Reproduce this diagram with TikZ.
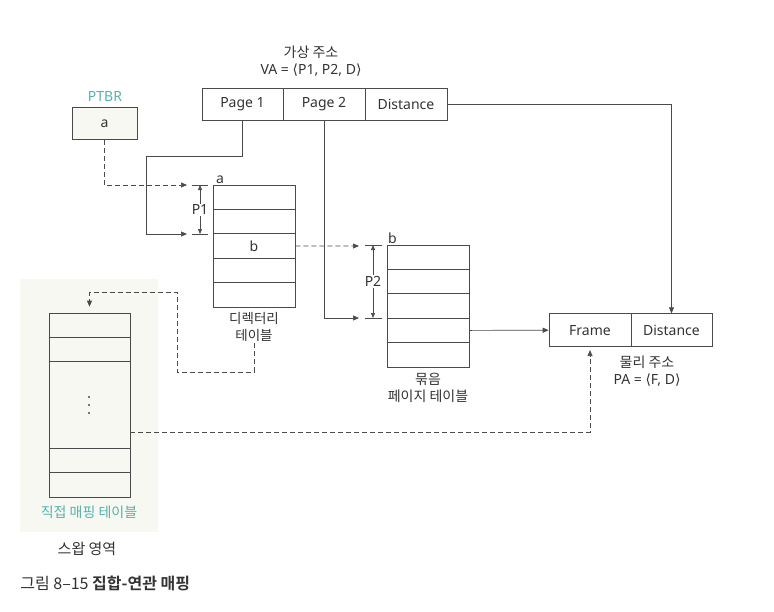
\documentclass[tikz,border=0pt]{standalone}
\usepackage{fontspec}
\setmainfont{Noto Sans}
\newfontfamily\kr{Noto Sans CJK KR}[BoldFont={Noto Sans CJK KR Bold}]
\newfontfamily\symfont{DejaVu Sans}
\usepackage{xcolor}
\usepackage{tikz}
\usetikzlibrary{positioning,calc,arrows.meta}

\definecolor{linegray}{HTML}{4A4A4A}
\definecolor{textgray}{HTML}{333333}
\definecolor{ptbrteal}{HTML}{55B3AC}
\definecolor{swapbg}{HTML}{F7F8F2}
\newcommand{\lang}{{\symfont\char"27E8}}
\newcommand{\rang}{{\symfont\char"27E9}}

\tikzset{
    cell/.style={draw=linegray, minimum width=82pt, minimum height=24.4pt, inner sep=0pt, text=textgray},
    addr/.style={draw=linegray, minimum height=32pt, inner sep=0pt, text=textgray},
    conn/.style={draw=linegray, line width=0.7pt},
    dash5/.style={dash pattern=on 5pt off 3pt},
    tip/.style={-{Triangle[length=6pt,width=5pt]}},
    lbl/.style={text=textgray, align=center, inner sep=1pt},
    krlbl/.style={text=textgray, align=center, inner sep=1pt, font=\kr\fontsize{14}{17}\selectfont}
}

\begin{document}
\begin{tikzpicture}[x=1pt, y=-1pt, font=\fontsize{14}{17}\selectfont, line width=0.7pt]
    \useasboundingbox (0,0) rectangle (774,611);

    % Swap area
    \fill[swapbg] (20,279) rectangle (158,532);

    % Virtual address
    \node[krlbl] (vatitle) at (311,52) {가상 주소};
    \node[lbl] (va) at (311,70) {VA = \lang P1, P2, D\rang};
    \node[addr, minimum width=81pt] (p1) at (242.5,104) {Page 1};
    \node[addr, minimum width=82pt] (p2) at (324,104) {Page 2};
    \node[addr, minimum width=82pt] (dist) at (406,104) {Distance};

    % PTBR
    \node[text=ptbrteal] (ptbrlab) at (105,96) {PTBR};
    \node[addr, minimum width=65pt, fill=swapbg] (ptbr) at (104.5,123.5) {a};

    % Directory table
    \foreach \i in {1,...,5} {
        \node[cell] (dir\i) at (254,{185+24.4*(\i-0.5)}) {};
    }
    \node[text=textgray] at (dir3) {b};
    \node[lbl, anchor=south west] (dira) at ([xshift=2pt]dir1.north west) {a};
    \node[krlbl, below=4pt of dir5, font=\kr\fontsize{13.5}{17}\selectfont] (dirlab) {디렉터리\\테이블};

    % Page table
    \foreach \i in {1,...,5} {
        \node[cell] (pg\i) at (428,{245+24.4*(\i-0.5)}) {};
    }
    \node[lbl, anchor=south west] (pgb) at (pg1.north west) {b};
    \node[krlbl, below=4pt of pg5] (pglab) {묶음\\페이지 테이블};

    % Physical address
    \node[addr, minimum width=82pt, minimum height=33pt] (fr) at (590,330.2) {Frame};
    \node[addr, minimum width=81pt, minimum height=33pt] (fd) at (671.5,330.2) {Distance};
    \node[krlbl] (palab) at (647,362) {물리 주소};
    \node[lbl] (pa) at (647,380) {PA = \lang F, D\rang};

    % Direct mapping table (swap)
    \node[cell, minimum width=81pt, minimum height=24pt] (swp1) at (89.5,325) {};
    \node[cell, minimum width=81pt, minimum height=24pt] (swp2) at (89.5,349) {};
    \node[cell, minimum width=81pt, minimum height=87pt] (swp3) at (89.5,404.5) {};
    \node[cell, minimum width=81pt, minimum height=24pt] (swp4) at (89.5,460) {};
    \node[cell, minimum width=81pt, minimum height=25pt] (swp5) at (89.5,484.5) {};
    \foreach \y in {397,405,413} {
        \fill[linegray] (89,\y) circle (1.1pt);
    }
    \node[krlbl, text=ptbrteal] (swplab) at (89,512) {직접 매핑 테이블};
    \node[krlbl, font=\kr\fontsize{15}{17}\selectfont] (swaplab) at (87,549) {스왑 영역};

    % Caption
    \node[anchor=west, text=textgray, inner sep=0pt, font=\kr\fontsize{16}{18}\selectfont] (cap) at (20,583) {그림 8–15 \textbf{집합-연관 매핑}};

    % Entry points
    \coordinate (ain) at (187,185);
    \coordinate (p1in) at (187,234);
    \coordinate (bin) at (359,246);
    \coordinate (p2in) at (359,318);
    \coordinate (swout) at (130,432);

    % P1 offset
    \draw[conn] (192,185) -- (208,185);
    \draw[conn] (192,234) -- (208,234);
    \draw[conn, {Triangle[length=5pt,width=4pt]}-{Triangle[length=5pt,width=4pt]}] (200,185) -- (200,234)
        node[midway, fill=white, inner sep=1pt, text=textgray] (p1off) {P1};

    % P2 offset
    \draw[conn] (365,245) -- (382,245);
    \draw[conn] (365,318) -- (382,318);
    \draw[conn, {Triangle[length=5pt,width=4pt]}-{Triangle[length=5pt,width=4pt]}] (373,245) -- (373,318)
        node[midway, fill=white, inner sep=1pt, text=textgray] (p2off) {P2};

    % Connectors
    \draw[conn, tip, dash5] (ptbr.south) |- (ain);
    \draw[conn, tip] (p1.south) |- (146,156) |- (p1in);
    \draw[conn, tip, dash5] (dir3.east) -- (bin);
    \draw[conn, tip] (p2.south) |- (p2in);
    \draw[conn, tip] (pg4.east) -- (fr.west);
    \draw[conn, tip] (dist.east) -| (fd.north);
    \draw[conn, tip, dash5, shorten >=6pt] (dirlab.south) -- (254,372) -| (177,292) -| (swp1.north);
    \draw[conn, tip, dash5, shorten >=3pt] (swout) -| (fr.south);
\end{tikzpicture}
\end{document}
